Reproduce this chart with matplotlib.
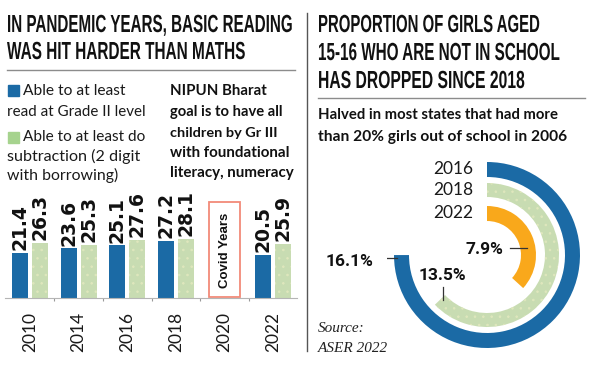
import numpy as np
import matplotlib
matplotlib.use("Agg")
import matplotlib.pyplot as plt
import matplotlib.font_manager as fm
from matplotlib.font_manager import FontProperties
from matplotlib.patches import Rectangle, Wedge
from matplotlib.lines import Line2D
from matplotlib.patheffects import AbstractPathEffect
from matplotlib.transforms import Affine2D
from matplotlib.textpath import TextPath

# ---------------- data ----------------
years = ["2010", "2014", "2016", "2018", "2020", "2022"]
reading = [21.4, 23.6, 25.1, 27.2, np.nan, 20.5]
maths = [26.3, 25.3, 27.6, 28.1, np.nan, 25.9]
covid_year = "2020"

ring_years = ["2016", "2018", "2022"]
ring_values = [16.1, 13.5, 7.9]

left_title = ["IN PANDEMIC YEARS, BASIC READING", "WAS HIT HARDER THAN MATHS"]
right_title = ["PROPORTION OF GIRLS AGED", "15-16 WHO ARE NOT IN SCHOOL", "HAS DROPPED SINCE 2018"]
right_sub = ["Halved in most states that had more", "than 20% girls out of school in 2006"]
legend_reading = ["Able to at least", "read at Grade II level"]
legend_maths = ["Able to at least do", "subtraction (2 digit", "with borrowing)"]
nipun = ["NIPUN Bharat", "goal is to have all", "children by Gr III", "with foundational", "literacy, numeracy"]

# ---------------- style ----------------
BLUE = "#1b6aa5"
GREEN = "#c8dcb2"
DOT = "#dfe7bd"
ORANGE = "#f9a81b"
COVID = "#f28a78"
GREY = "#8c8c8c"

names = {f.name for f in fm.fontManager.ttflist}
def pick(*c):
    for n in c:
        if n in names:
            return n
    return "DejaVu Sans"

BODY_LIGHT = pick("Lato", "Roboto", "Open Sans")
BODY_BOLD = pick("Lato", "Roboto", "Open Sans")
title_fp = FontProperties(family=pick("Liberation Sans", "Roboto"), weight="bold")
plt.rcParams["hatch.linewidth"] = 0.6


class VStretch(AbstractPathEffect):
    """Draw glyphs taller than wide (condensed headline look), anchored at baseline."""
    def __init__(self, sy):
        super().__init__()
        self.sy = sy

    def draw_path(self, renderer, gc, tpath, affine, rgbFace=None):
        renderer.draw_path(gc, tpath, Affine2D().scale(1.0, self.sy) + affine, rgbFace)


W, H = 600, 365
fig = plt.figure(figsize=(W / 100, H / 100), dpi=100)
ov = fig.add_axes([0, 0, 1, 1])
ov.set_xlim(0, W)
ov.set_ylim(H, 0)
ov.axis("off")
renderer = fig.canvas.get_renderer()

def fit(x, y, s, width, **kw):
    t = ov.text(x, y, s, **kw)
    bb = t.get_window_extent(renderer)
    t.set_fontsize(t.get_fontsize() * width / bb.width)
    return t

cap_em = TextPath((0, 0), "H", size=1, prop=title_fp).get_extents().height

def title_line(x, y, s, width, cap_px=17):
    fp = title_fp.copy()
    fp.set_size(16)
    t = ov.text(x, y, s, fontproperties=fp, va="baseline", ha="left", color="#111111")
    w0 = t.get_window_extent(renderer).width
    size_pt = 16 * width / w0
    t.set_fontsize(size_pt)
    cap_now = cap_em * size_pt * 100 / 72
    t.set_path_effects([VStretch(cap_px / cap_now)])
    return t

# titles
for s, y, w in zip(left_title, [32, 59], [286, 239]):
    title_line(7, y, s, w)
for s, y, w in zip(right_title, [32, 60, 88], [222, 242, 207]):
    title_line(318, y, s, w)

ov.add_line(Line2D([7, 295], [70, 70], color=GREY, lw=1))
ov.add_line(Line2D([318, 585], [98, 98], color=GREY, lw=1))
ov.add_line(Line2D([306.5, 306.5], [13, 351], color="#555555", lw=1))

for s, y, w in zip(right_sub, [119, 141], [239, 248]):
    fit(318, y, s, w, family=BODY_BOLD, weight="bold", fontsize=11, va="baseline", color="#111111")

# legend
ov.add_patch(Rectangle((8, 85), 11, 11, color=BLUE))
ov.add_patch(Rectangle((8, 132), 11, 11, color="#a6d38e"))
for s, x, y, w in zip(legend_reading, [23, 7], [95, 116], [102, 138]):
    fit(x, y, s, w, family=BODY_LIGHT, fontsize=11, va="baseline", color="#1a1a1a")
for s, x, y, w in zip(legend_maths, [23, 7, 7], [141, 161, 180], [122, 133, 111]):
    fit(x, y, s, w, family=BODY_LIGHT, fontsize=11, va="baseline", color="#1a1a1a")
for s, y, w in zip(nipun, [95, 116, 137, 157, 177], [96, 112, 107, 119, 123]):
    fit(170, y, s, w, family=BODY_BOLD, weight="bold", fontsize=11, va="baseline", color="#111111")

# source
ov.text(318, 332, "Source:", family="Liberation Serif", style="italic", fontsize=11, va="baseline", color="#222222")
ov.text(318, 352, "ASER 2022", family="Liberation Serif", style="italic", fontsize=11, va="baseline", color="#222222")

# ---------------- bar chart ----------------
ppu = 2.1
top_px = 214
bax = fig.add_axes([5 / W, (H - 298) / H, 292 / W, (298 - top_px) / H])
bax.set_ylim(0, (298 - top_px) / ppu)
bax.set_xlim(-0.515, 5.49)
x = np.arange(len(years))
off, bw = 0.205, 0.33
bax.bar(x - off, reading, bw, color=BLUE, linewidth=0)
bax.bar(x + off, maths, bw, color=GREEN, edgecolor=DOT, hatch="..", linewidth=0)
for xi, r, m in zip(x, reading, maths):
    for xx, v in [(xi - off, r), (xi + off, m)]:
        if not np.isnan(v):
            bax.text(xx, v + 1.3, f"{v}", rotation=90, ha="center", va="bottom",
                     family="DejaVu Sans", weight="bold", fontsize=13.5, color="#111111")
ci = years.index(covid_year)
bax.add_patch(Rectangle((ci - 0.32, 0.4), 0.64, 45.3, fill=False, edgecolor=COVID, lw=1.3, clip_on=False))
bax.text(ci, 22.5, "Covid Years", rotation=90, ha="center", va="center",
         family="Liberation Sans", weight="bold", fontsize=9.5, color="#111111")
for sp in ["top", "right", "left"]:
    bax.spines[sp].set_visible(False)
bax.spines["bottom"].set_color("#b5b5b5")
bax.set_yticks([])
bax.set_xticks(x)
bax.set_xticklabels(years, rotation=90, family=BODY_LIGHT, fontsize=12.5, color="#1a1a1a")
bax.tick_params(axis="x", which="major", length=0, pad=10)
bax.set_xticks(x[:-1] + 0.5, minor=True)
bax.tick_params(axis="x", which="minor", length=2.5, color="#999999", width=0.8)
bax.patch.set_alpha(0)

# ---------------- radial chart ----------------
rax = fig.add_axes([(487 - 100) / W, (H - 255 - 100) / H, 200 / W, 200 / H])
rax.set_xlim(-100, 100)
rax.set_ylim(-100, 100)
rax.axis("off")
full_circle = 21.47
radii = [93, 72, 49]
widths = [15, 14, 15]
cols = [BLUE, GREEN, ORANGE]
for yr, v, r, w, c in zip(ring_years, ring_values, radii, widths, cols):
    ang = v / full_circle * 360
    kw = dict(edgecolor=DOT, hatch="..", linewidth=0) if c == GREEN else dict(linewidth=0)
    rax.add_patch(Wedge((0, 0), r, 90 - ang, 90, width=w, facecolor=c, **kw))
    rax.text(-14, r - w / 2, yr, ha="right", va="center", family=BODY_LIGHT,
             fontsize=12.5, color="#1a1a1a")

pct_font = dict(family="Roboto", weight="bold", fontsize=12.5, color="#111111")
rax.text(-114, -6, f"{ring_values[0]}%", ha="right", va="center", **pct_font)
rax.add_line(Line2D([-107, -90], [-3, -3], color="#333333", lw=0.9))
rax.text(-45, -21, f"{ring_values[1]}%", ha="center", va="center", **pct_font)
rax.add_line(Line2D([-44, -44], [-32, -45], color="#333333", lw=0.9))
rax.text(16, 6, f"{ring_values[2]}%", ha="right", va="center", **pct_font)
rax.add_line(Line2D([23, 40], [7, 7], color="#333333", lw=0.9))

fig.savefig("out.png", dpi=100)
